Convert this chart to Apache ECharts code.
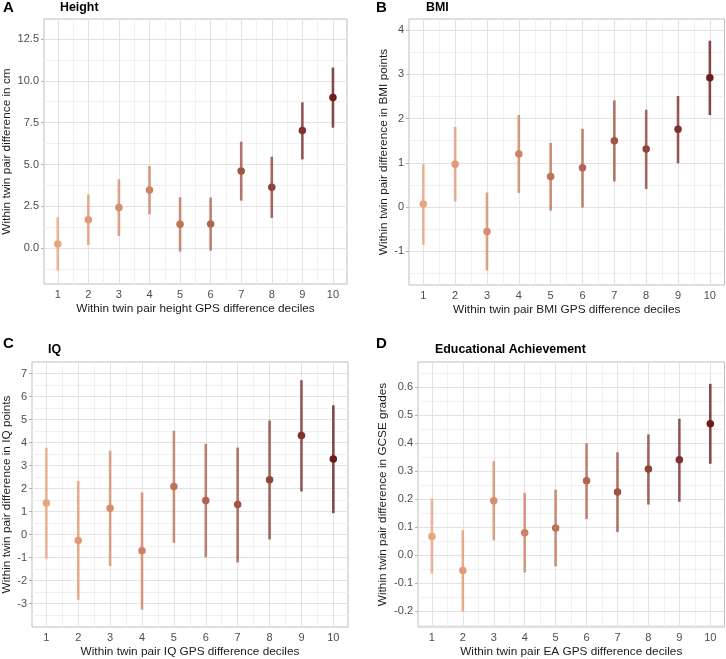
<!DOCTYPE html>
<html><head><meta charset="utf-8">
<script src="https://cdn.jsdelivr.net/npm/echarts@6/dist/echarts.min.js"></script>
<style>html,body{margin:0;padding:0;background:#fff}#c{width:726px;height:659px}</style>
</head><body><div id="c"></div>
<script>
// ---------- data ----------
const deciles = [1,2,3,4,5,6,7,8,9,10];

const heightMean = [0.26, 1.71, 2.43, 3.48, 1.43, 1.45, 4.62, 3.64, 7.03, 9.00];
const heightLow  = [-1.33, 0.20, 0.74, 2.03, -0.20, -0.14, 2.85, 1.81, 5.31, 7.20];
const heightHigh = [1.85, 3.22, 4.12, 4.92, 3.05, 3.03, 6.37, 5.47, 8.72, 10.79];

const bmiMean = [0.07, 0.97, -0.55, 1.20, 0.69, 0.89, 1.50, 1.31, 1.76, 2.92];
const bmiLow  = [-0.85, 0.13, -1.43, 0.32, -0.08, -0.01, 0.58, 0.41, 0.99, 2.08];
const bmiHigh = [0.97, 1.81, 0.33, 2.08, 1.45, 1.77, 2.41, 2.20, 2.51, 3.76];

const iqMean = [1.37, -0.26, 1.14, -0.71, 2.09, 1.48, 1.30, 2.38, 4.30, 3.28];
const iqLow  = [-1.05, -2.84, -1.37, -3.27, -0.36, -0.99, -1.21, -0.21, 1.87, 0.93];
const iqHigh = [3.77, 2.33, 3.64, 1.83, 4.51, 3.94, 3.78, 4.96, 6.71, 5.62];

const eaMean = [0.067, -0.055, 0.195, 0.080, 0.097, 0.266, 0.226, 0.308, 0.341, 0.470];
const eaLow  = [-0.066, -0.201, 0.053, -0.062, -0.040, 0.129, 0.083, 0.181, 0.191, 0.327];
const eaHigh = [0.202, 0.090, 0.336, 0.223, 0.234, 0.400, 0.368, 0.432, 0.488, 0.613];

// tick labels (major) and minor grid positions
const xMinor = [1.5,2.5,3.5,4.5,5.5,6.5,7.5,8.5,9.5];
const heightTicks = [0, 2.5, 5, 7.5, 10, 12.5];
const heightMinor = [-1.25, 1.25, 3.75, 6.25, 8.75, 11.25];
const bmiTicks = [-1, 0, 1, 2, 3, 4];
const bmiMinor = [-1.5, -0.5, 0.5, 1.5, 2.5, 3.5];
const iqTicks = [-3, -2, -1, 0, 1, 2, 3, 4, 5, 6, 7];
const iqMinor = [-3.5, -2.5, -1.5, -0.5, 0.5, 1.5, 2.5, 3.5, 4.5, 5.5, 6.5];
const eaTicks = [-0.2, -0.1, 0, 0.1, 0.2, 0.3, 0.4, 0.5, 0.6];
const eaMinor = [-0.25, -0.15, -0.05, 0.05, 0.15, 0.25, 0.35, 0.45, 0.55, 0.65];

// ---------- style ----------
const colors = ['#eaa47f','#e29a76','#d68d6c','#cd8263','#be7359','#b1654f','#a05445','#8f443a','#7e3030','#6c1d1d'];
const FONT = 'Liberation Sans, Arial, Helvetica, sans-serif';

const panels = [
  { letter:'A', title:'Height', mean:heightMean, low:heightLow, high:heightHigh,
    ticks:heightTicks, minor:heightMinor, dec:1, ymin:-2.13, ymax:13.69,
    grid:{left:44, top:19, width:303, height:265}, yGap:31, letterPos:[3,0], titlePos:[60,2],
    xName:'Within twin pair height GPS difference deciles', yName:'Within twin pair difference in cm' },
  { letter:'B', title:'BMI', mean:bmiMean, low:bmiLow, high:bmiHigh,
    ticks:bmiTicks, minor:bmiMinor, dec:0, ymin:-1.76, ymax:4.25,
    grid:{left:409, top:19, width:315.5, height:266}, yGap:19, letterPos:[376,0], titlePos:[426,2],
    xName:'Within twin pair BMI GPS difference deciles', yName:'Within twin pair difference in BMI points' },
  { letter:'C', title:'IQ', mean:iqMean, low:iqLow, high:iqHigh,
    ticks:iqTicks, minor:iqMinor, dec:0, ymin:-4.02, ymax:7.5,
    grid:{left:32, top:362, width:316, height:267}, yGap:19, letterPos:[3,336], titlePos:[48,344],
    xName:'Within twin pair IQ GPS difference deciles', yName:'Within twin pair difference in IQ points' },
  { letter:'D', title:'Educational Achievement', mean:eaMean, low:eaLow, high:eaHigh,
    ticks:eaTicks, minor:eaMinor, dec:1, ymin:-0.257, ymax:0.691,
    grid:{left:418, top:362, width:306.5, height:266}, yGap:29, letterPos:[376,336], titlePos:[435,344],
    xName:'Within twin pair EA GPS difference deciles', yName:'Within twin pair difference in GCSE grades' }
];

const chart = echarts.init(document.getElementById('c'), null, {renderer:'canvas'});

const option = {
  animation:false,
  backgroundColor:'#ffffff',
  title:[], grid:[], xAxis:[], yAxis:[], series:[]
};

const MAJOR = '#e2e2e2', MINORC = '#f0f0f0', BORDER = '#bdbdbd';

panels.forEach((p, i) => {
  option.title.push({ text:p.letter, left:p.letterPos[0], top:p.letterPos[1], padding:0,
    textStyle:{fontFamily:FONT, fontWeight:'bold', fontSize:15, color:'#000'} });
  option.title.push({ text:p.title, left:p.titlePos[0], top:p.titlePos[1], padding:0,
    textStyle:{fontFamily:FONT, fontWeight:'bold', fontSize:12.4, color:'#000'} });
  option.grid.push(Object.assign({ show:true, borderColor:BORDER, borderWidth:1, backgroundColor:'transparent', containLabel:false, z:0 }, p.grid));
  option.xAxis.push({
    type:'value', gridIndex:i, min:0.55, max:10.46,
    name:p.xName, nameLocation:'middle', nameGap:19,
    nameTextStyle:{fontFamily:FONT, fontSize:11.8, color:'#1a1a1a'},
    axisLine:{show:false},
    axisTick:{show:true, length:3, lineStyle:{color:'#b3b3b3'}, customValues:deciles},
    axisLabel:{show:true, margin:5, fontFamily:FONT, fontSize:11, color:'#4d4d4d', customValues:deciles,
      formatter:v => String(v)},
    splitLine:{show:false}
  });
  option.yAxis.push({
    type:'value', gridIndex:i, min:p.ymin, max:p.ymax,
    name:p.yName, nameLocation:'middle', nameGap:p.yGap, nameRotate:90,
    nameTextStyle:{fontFamily:FONT, fontSize:11.8, color:'#1a1a1a'},
    axisLine:{show:false},
    axisTick:{show:true, length:3, lineStyle:{color:'#b3b3b3'}, customValues:p.ticks},
    axisLabel:{show:true, margin:5, fontFamily:FONT, fontSize:11, color:'#4d4d4d', customValues:p.ticks,
      formatter:v => Number(v).toFixed(p.dec)},
    splitLine:{show:false}
  });
  // grid lines (minor first, then major)
  const mk = (vals, key, color) => vals.map(v => ({ [key]: v, lineStyle:{color:color, width:1, type:'solid'} }));
  option.series.push({
    type:'line', xAxisIndex:i, yAxisIndex:i, data:[], z:1, silent:true,
    markLine:{ z:1, silent:true, symbol:['none','none'], label:{show:false}, animation:false,
      emphasis:{disabled:true},
      data: [].concat(mk(xMinor,'xAxis',MINORC), mk(p.minor,'yAxis',MINORC),
                      mk(deciles,'xAxis',MAJOR), mk(p.ticks,'yAxis',MAJOR)) }
  });
  // error bars
  option.series.push({
    type:'custom', xAxisIndex:i, yAxisIndex:i, z:5, silent:true,
    data: deciles.map((d, k) => [d, p.low[k], p.high[k]]),
    renderItem:(params, api) => {
      const x = api.value(0);
      const a = api.coord([x, api.value(1)]);
      const b = api.coord([x, api.value(2)]);
      return { type:'line', shape:{x1:a[0], y1:a[1], x2:b[0], y2:b[1]},
        style:{ stroke:colors[params.dataIndex], lineWidth:2.6, opacity:0.8 } };
    }
  });
  // points
  option.series.push({
    type:'scatter', xAxisIndex:i, yAxisIndex:i, z:6, silent:true,
    symbol:'circle', symbolSize:7.5,
    data: deciles.map((d, k) => [d, p.mean[k]]),
    itemStyle:{ color: params => colors[params.dataIndex], opacity:1 }
  });
});

chart.setOption(option);
</script>
</body></html>
